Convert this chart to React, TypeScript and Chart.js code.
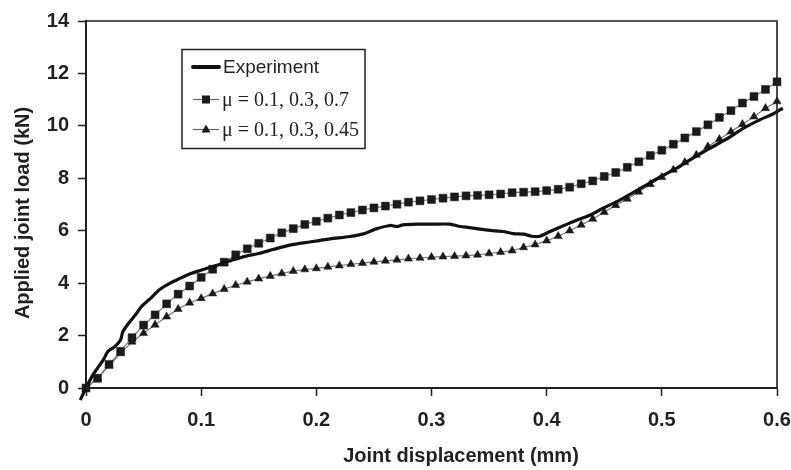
import React, { useEffect, useRef } from "react";
import { Chart, registerables } from "chart.js";

Chart.register(...registerables);

// ---- data ----
const displacement = [
  0, 0.01, 0.02, 0.03, 0.04, 0.05, 0.06, 0.07, 0.08, 0.09,
  0.1, 0.11, 0.12, 0.13, 0.14, 0.15, 0.16, 0.17, 0.18, 0.19,
  0.2, 0.21, 0.22, 0.23, 0.24, 0.25, 0.26, 0.27, 0.28, 0.29,
  0.3, 0.31, 0.32, 0.33, 0.34, 0.35, 0.36, 0.37, 0.38, 0.39,
  0.4, 0.41, 0.42, 0.43, 0.44, 0.45, 0.46, 0.47, 0.48, 0.49,
  0.5, 0.51, 0.52, 0.53, 0.54, 0.55, 0.56, 0.57, 0.58, 0.59, 0.6,
];

const loadMu07 = [
  0, 0.37, 0.9, 1.4, 1.92, 2.4, 2.79, 3.21, 3.58, 3.89,
  4.22, 4.53, 4.8, 5.08, 5.31, 5.52, 5.72, 5.92, 6.08, 6.24,
  6.36, 6.48, 6.6, 6.69, 6.79, 6.87, 6.94, 7.01, 7.09, 7.14,
  7.19, 7.24, 7.29, 7.33, 7.35, 7.37, 7.4, 7.45, 7.47, 7.49,
  7.53, 7.58, 7.66, 7.79, 7.9, 8.07, 8.22, 8.42, 8.63, 8.87,
  9.07, 9.3, 9.54, 9.78, 10.04, 10.32, 10.58, 10.87, 11.12, 11.39, 11.68,
];

const loadMu045 = [
  0, 0.36, 0.85, 1.32, 1.76, 2.09, 2.41, 2.72, 3.01, 3.25,
  3.42, 3.6, 3.77, 3.92, 4.05, 4.17, 4.27, 4.37, 4.46, 4.52,
  4.56, 4.62, 4.67, 4.72, 4.76, 4.81, 4.85, 4.89, 4.93, 4.96,
  4.99, 5.01, 5.03, 5.05, 5.08, 5.13, 5.18, 5.24, 5.36, 5.47,
  5.62, 5.79, 6.0, 6.22, 6.45, 6.71, 6.97, 7.21, 7.48, 7.77,
  8.04, 8.32, 8.61, 8.89, 9.21, 9.49, 9.78, 10.06, 10.35, 10.67, 10.93,
];

const expDisplacement = [
  -0.005, 0, 0.006, 0.012, 0.015, 0.019, 0.025, 0.03, 0.032, 0.037,
  0.044, 0.048, 0.056, 0.064, 0.073, 0.082, 0.09, 0.099, 0.11, 0.119,
  0.128, 0.139, 0.151, 0.163, 0.177, 0.194, 0.212, 0.229, 0.241, 0.252,
  0.264, 0.27, 0.275, 0.287, 0.302, 0.316, 0.325, 0.333, 0.342, 0.351,
  0.362, 0.371, 0.38, 0.387, 0.394, 0.403, 0.414, 0.426, 0.438, 0.449,
  0.461, 0.472, 0.484, 0.498, 0.513, 0.527, 0.542, 0.556, 0.571, 0.585,
  0.597, 0.605,
];

const expLoad = [
  -0.46, 0, 0.5, 0.88, 1.07, 1.39, 1.58, 1.83, 2.15, 2.47,
  2.85, 3.1, 3.42, 3.76, 4.0, 4.19, 4.35, 4.48, 4.63, 4.76,
  4.89, 5.03, 5.14, 5.29, 5.45, 5.57, 5.69, 5.78, 5.88, 6.07,
  6.2, 6.16, 6.22, 6.25, 6.25, 6.25, 6.16, 6.12, 6.06, 6.01,
  5.97, 5.89, 5.87, 5.79, 5.79, 5.97, 6.18, 6.4, 6.6, 6.86,
  7.11, 7.38, 7.68, 8.04, 8.39, 8.77, 9.15, 9.49, 9.91, 10.23,
  10.46, 10.68,
];

const seriesNames = ["Experiment", "\u03bc = 0.1, 0.3, 0.7", "\u03bc = 0.1, 0.3, 0.45"];
const xTitle = "Joint displacement (mm)";
const yTitle = "Applied joint load (kN)";

const INK = "#231f20";

const frameAndTitles = {
  id: "frameAndTitles",
  afterDatasetsDraw(chart: any) {
    const { ctx, chartArea } = chart;
    ctx.save();
    ctx.strokeStyle = INK;
    ctx.lineWidth = 1.6;
    ctx.beginPath();
    ctx.moveTo(chartArea.left, chartArea.top);
    ctx.lineTo(chartArea.right, chartArea.top);
    ctx.lineTo(chartArea.right, chartArea.bottom);
    ctx.stroke();
    ctx.restore();
  },
  afterDraw(chart: any) {
    const { ctx } = chart;
    ctx.save();
    ctx.fillStyle = INK;
    ctx.font = 'bold 20px "Liberation Sans", Arial, sans-serif';
    ctx.textAlign = "center";
    ctx.textBaseline = "middle";
    ctx.fillText(xTitle, 461, 456);
    ctx.translate(23, 213);
    ctx.rotate(-Math.PI / 2);
    ctx.fillText(yTitle, 0, 0);
    ctx.restore();

    // legend box
    ctx.save();
    const bx = 182, by = 49.5, bw = 183, bh = 99;
    ctx.fillStyle = "#ffffff";
    ctx.fillRect(bx, by, bw, bh);
    ctx.strokeStyle = INK;
    ctx.lineWidth = 1.5;
    ctx.strokeRect(bx, by, bw, bh);

    // row 1: experiment
    const r1 = 67;
    ctx.strokeStyle = "#111";
    ctx.lineWidth = 4;
    ctx.lineCap = "round";
    ctx.beginPath();
    ctx.moveTo(193, r1);
    ctx.lineTo(219, r1);
    ctx.stroke();
    ctx.fillStyle = INK;
    ctx.font = '19px "Liberation Sans", Arial, sans-serif';
    ctx.textAlign = "left";
    ctx.textBaseline = "middle";
    ctx.fillText(seriesNames[0], 223, r1 + 1);

    // row 2: squares
    const r2 = 99.5;
    ctx.lineCap = "butt";
    ctx.strokeStyle = "#666";
    ctx.lineWidth = 1.2;
    ctx.beginPath();
    ctx.moveTo(193, r2);
    ctx.lineTo(219, r2);
    ctx.stroke();
    ctx.fillStyle = "#1a1a1a";
    ctx.fillRect(206 - 4, r2 - 4, 8, 8);
    ctx.fillStyle = INK;
    ctx.font = '20px "Liberation Serif", "Times New Roman", serif';
    ctx.fillText(seriesNames[1], 222, r2 + 1);

    // row 3: triangles
    const r3 = 129.5;
    ctx.strokeStyle = "#666";
    ctx.beginPath();
    ctx.moveTo(193, r3);
    ctx.lineTo(219, r3);
    ctx.stroke();
    ctx.fillStyle = "#1a1a1a";
    ctx.beginPath();
    ctx.moveTo(206, r3 - 5);
    ctx.lineTo(210.5, r3 + 3);
    ctx.lineTo(201.5, r3 + 3);
    ctx.closePath();
    ctx.fill();
    ctx.fillStyle = INK;
    ctx.fillText(seriesNames[2], 222, r3 + 1);
    ctx.restore();
  },
};

export default function App() {
  const canvasRef = useRef<HTMLCanvasElement | null>(null);

  useEffect(() => {
    const canvas = canvasRef.current;
    if (!canvas) return;

    const tickFont = { family: '"Liberation Sans", Arial, sans-serif', size: 20, weight: "bold" as const };

    const chart = new Chart(canvas, {
      type: "scatter",
      data: {
        datasets: [
          {
            label: seriesNames[0],
            data: expDisplacement.map((x, i) => ({ x, y: expLoad[i] })),
            showLine: true,
            borderColor: "#111",
            borderWidth: 3.2,
            pointRadius: 0,
            tension: 0.25,
            clip: false as any,
          },
          {
            label: seriesNames[1],
            data: displacement.map((x, i) => ({ x, y: loadMu07[i] })),
            showLine: true,
            borderColor: "#777",
            borderWidth: 1.2,
            pointStyle: "rect",
            pointRadius: 5.6,
            pointBackgroundColor: "#1a1a1a",
            pointBorderColor: "#1a1a1a",
            pointBorderWidth: 0.5,
            clip: false as any,
          },
          {
            label: seriesNames[2],
            data: displacement.map((x, i) => ({ x, y: loadMu045[i] })),
            showLine: true,
            borderColor: "#777",
            borderWidth: 1.2,
            pointStyle: "triangle",
            pointRadius: 4.7,
            pointBackgroundColor: "#1a1a1a",
            pointBorderColor: "#1a1a1a",
            pointBorderWidth: 0.5,
            clip: false as any,
          },
        ],
      },
      options: {
        responsive: false,
        animation: false,
        layout: { padding: { left: 0, right: 14, top: 21, bottom: 0 } },
        plugins: {
          legend: { display: false },
          tooltip: { enabled: false },
        },
        scales: {
          x: {
            type: "linear",
            min: 0,
            max: 0.6,
            ticks: {
              stepSize: 0.1,
              color: INK,
              font: tickFont,
              padding: 12,
              maxRotation: 0,
              callback: (v: any) => (Number(v) === 0 ? "0" : Number(v).toFixed(1)),
            },
            grid: {
              display: true,
              drawOnChartArea: false,
              drawTicks: true,
              tickLength: 8,
              tickWidth: 1.5,
              tickColor: INK,
            },
            border: { display: true, color: INK, width: 2 },
            title: { display: false },
            afterFit: (s: any) => {
              s.height = 82;
              s.paddingLeft = 0;
              s.paddingRight = 0;
            },
          },
          y: {
            type: "linear",
            min: 0,
            max: 14,
            ticks: {
              stepSize: 2,
              color: INK,
              font: tickFont,
              padding: 9,
            },
            grid: {
              display: true,
              drawOnChartArea: false,
              drawTicks: true,
              tickLength: 8,
              tickWidth: 1.5,
              tickColor: INK,
            },
            border: { display: true, color: INK, width: 2 },
            title: { display: false },
            afterFit: (s: any) => {
              s.width = 86;
              s.paddingTop = 0;
              s.paddingBottom = 0;
            },
          },
        },
      },
      plugins: [frameAndTitles],
    });

    return () => chart.destroy();
  }, []);

  return (
    <div style={{ position: "absolute", left: 0, top: 0, width: 791, height: 470, background: "#fff" }}>
      <canvas ref={canvasRef} width={791} height={470} style={{ display: "block" }} />
    </div>
  );
}
